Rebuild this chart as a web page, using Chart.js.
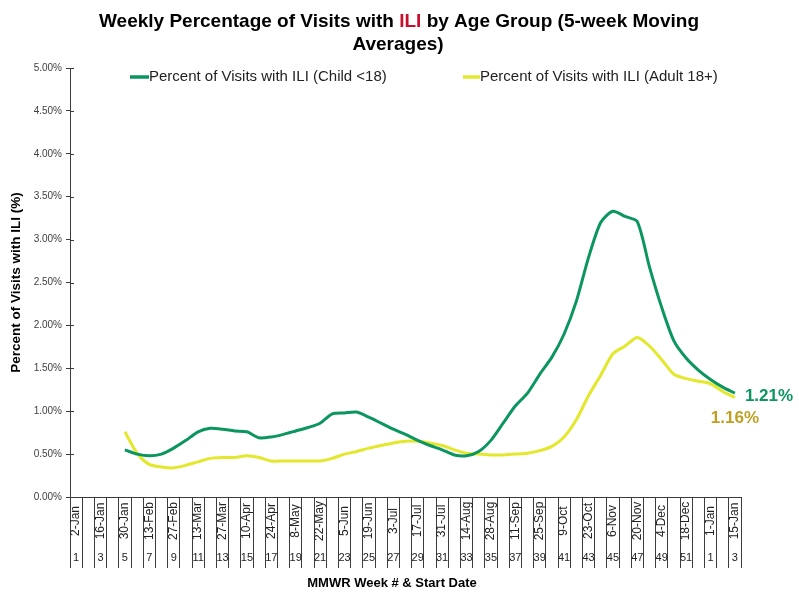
<!DOCTYPE html>
<html>
<head>
<meta charset="utf-8">
<script src="https://cdn.jsdelivr.net/npm/chart.js@4/dist/chart.umd.min.js"></script>
<style>
  html, body { margin: 0; padding: 0; background: #fff; }
  canvas { display: block; }
</style>
</head>
<body>
<canvas id="chart" width="799" height="592" style="width:799px;height:592px"></canvas>
<script>
// MMWR week numbers (weeks 1-52, then weeks 1-3 of the next year)
const weekNums = [1, 2, 3, 4, 5, 6, 7, 8, 9, 10, 11, 12, 13, 14, 15, 16, 17, 18, 19, 20,
    21, 22, 23, 24, 25, 26, 27, 28, 29, 30, 31, 32, 33, 34, 35, 36, 37, 38, 39, 40,
    41, 42, 43, 44, 45, 46, 47, 48, 49, 50, 51, 52, 1, 2, 3];

// start date labels (only every other week is labelled)
const startDates = ['2-Jan', '', '16-Jan', '', '30-Jan', '', '13-Feb', '', '27-Feb', '', '13-Mar', '',
    '27-Mar', '', '10-Apr', '', '24-Apr', '', '8-May', '', '22-May', '', '5-Jun', '', '19-Jun', '',
    '3-Jul', '', '17-Jul', '', '31-Jul', '', '14-Aug', '', '28-Aug', '', '11-Sep', '', '25-Sep', '',
    '9-Oct', '', '23-Oct', '', '6-Nov', '', '20-Nov', '', '4-Dec', '', '18-Dec', '', '1-Jan', '', '15-Jan'];

// week number labels shown on the axis
const weekTicks = weekNums.map((w, i) => (startDates[i] ? String(w) : ''));

// 5-week moving averages (%)
const childPct = [null, null, null, null,
    0.55, 0.50, 0.48, 0.50, 0.57, 0.66, 0.76, 0.80, 0.79, 0.77, 0.76, 0.69, 0.70, 0.73, 0.77, 0.81,
    0.86, 0.97, 0.98, 0.99, 0.93, 0.86, 0.79, 0.73, 0.66, 0.60, 0.55, 0.49, 0.48, 0.53, 0.66, 0.86,
    1.06, 1.21, 1.43, 1.63, 1.90, 2.28, 2.79, 3.20, 3.33, 3.27, 3.21, 2.68, 2.21, 1.82, 1.62, 1.48,
    1.37, 1.28, 1.21];
const adultPct = [null, null, null, null,
    0.76, 0.51, 0.38, 0.35, 0.34, 0.37, 0.41, 0.45, 0.46, 0.46, 0.48, 0.46, 0.42, 0.42, 0.42, 0.42,
    0.42, 0.45, 0.50, 0.53, 0.57, 0.60, 0.63, 0.65, 0.65, 0.63, 0.60, 0.55, 0.51, 0.50, 0.49, 0.49,
    0.50, 0.51, 0.54, 0.59, 0.70, 0.90, 1.18, 1.42, 1.67, 1.76, 1.86, 1.76, 1.60, 1.43, 1.38, 1.35,
    1.32, 1.23, 1.16];

const seriesNames = ['Percent of Visits with ILI (Child <18)', 'Percent of Visits with ILI (Adult 18+)'];
const yTicks = [0, 0.5, 1, 1.5, 2, 2.5, 3, 3.5, 4, 4.5, 5];

const GREEN = '#0b9660';
const YELLOW = '#e4e82c';
const GOLD = '#bfa022';
const AXIS = '#3c3c3c';
const FONT = '"Liberation Sans", Arial, sans-serif';

// title, legend, two-row category axis and end labels
const decorations = {
    id: 'decorations',
    afterDraw(chart) {
        const ctx = chart.ctx;
        const x = chart.scales.x;
        const y = chart.scales.y;
        const area = chart.chartArea;
        ctx.save();

        // title, "ILI" in red
        ctx.font = 'bold 19px ' + FONT;
        ctx.textBaseline = 'middle';
        ctx.textAlign = 'left';
        const parts = [['Weekly Percentage of Visits with ', '#000'], ['ILI', '#c8102e'], [' by Age Group (5-week Moving', '#000']];
        const total = parts.reduce((s, p) => s + ctx.measureText(p[0]).width, 0);
        let tx = 399 - total / 2;
        parts.forEach(p => {
            ctx.fillStyle = p[1];
            ctx.fillText(p[0], tx, 22);
            tx += ctx.measureText(p[0]).width;
        });
        ctx.textAlign = 'center';
        ctx.fillStyle = '#000';
        ctx.fillText('Averages)', 398, 45);

        // legend
        ctx.font = '15px ' + FONT;
        ctx.textAlign = 'left';
        ctx.fillStyle = '#222';
        ctx.lineWidth = 3.5;
        ctx.strokeStyle = GREEN;
        ctx.beginPath(); ctx.moveTo(130, 77); ctx.lineTo(149, 77); ctx.stroke();
        ctx.fillText(seriesNames[0], 149, 77);
        ctx.strokeStyle = YELLOW;
        ctx.beginPath(); ctx.moveTo(463, 77); ctx.lineTo(480, 77); ctx.stroke();
        ctx.fillText(seriesNames[1], 480, 77);

        // inner half of the y tick marks
        ctx.lineWidth = 1;
        ctx.strokeStyle = AXIS;
        yTicks.forEach(v => {
            const py = Math.round(y.getPixelForValue(v)) + 0.5;
            ctx.beginPath(); ctx.moveTo(area.left, py); ctx.lineTo(area.left + 4, py); ctx.stroke();
        });

        // category labels: rotated dates and week numbers
        ctx.fillStyle = '#222';
        ctx.textBaseline = 'middle';
        startDates.forEach((d, i) => {
            const px = x.getPixelForValue(i);
            if (d) {
                ctx.save();
                ctx.translate(px, 521);
                ctx.rotate(-Math.PI / 2);
                ctx.font = '12px ' + FONT;
                ctx.textAlign = 'center';
                ctx.fillText(d, 0, 0);
                ctx.restore();
            }
            if (weekTicks[i]) {
                ctx.font = '11px ' + FONT;
                ctx.textAlign = 'center';
                ctx.fillText(weekTicks[i], px, 558);
            }
        });

        // x axis title
        ctx.font = 'bold 13px ' + FONT;
        ctx.textAlign = 'center';
        ctx.fillStyle = '#000';
        ctx.fillText('MMWR Week # & Start Date', 392, 583);

        // last value labels
        const last = weekNums.length - 1;
        const lx = x.getPixelForValue(last);
        ctx.font = 'bold 17px ' + FONT;
        ctx.textAlign = 'left';
        ctx.fillStyle = GREEN;
        ctx.fillText(childPct[last].toFixed(2) + '%', lx + 10, y.getPixelForValue(childPct[last]) + 3);
        ctx.textAlign = 'center';
        ctx.fillStyle = GOLD;
        ctx.fillText(adultPct[last].toFixed(2) + '%', lx, y.getPixelForValue(adultPct[last]) + 21);

        ctx.restore();
    }
};

const chart = new Chart(document.getElementById('chart'), {
    type: 'line',
    data: {
        labels: weekNums,
        datasets: [{
            label: seriesNames[0],
            data: childPct,
            borderColor: GREEN,
            borderWidth: 3,
            pointRadius: 0,
            tension: 0.25
        }, {
            label: seriesNames[1],
            data: adultPct,
            borderColor: YELLOW,
            borderWidth: 3,
            pointRadius: 0,
            tension: 0.25
        }]
    },
    options: {
        responsive: false,
        animation: false,
        layout: {
            padding: { top: 68, right: 58, bottom: 0, left: 0 }
        },
        plugins: {
            legend: { display: false },
            title: { display: false },
            tooltip: { enabled: false }
        },
        scales: {
            x: {
                offset: true,
                ticks: { display: false, autoSkip: false },
                grid: {
                    offset: true,
                    drawOnChartArea: false,
                    tickLength: 71,
                    color: AXIS
                },
                border: { color: AXIS },
                afterFit: (scale) => { scale.height = 95; }
            },
            y: {
                min: 0,
                max: 5,
                afterBuildTicks: (scale) => { scale.ticks = yTicks.map(v => ({ value: v })); },
                ticks: {
                    callback: (v) => v.toFixed(2) + '%',
                    font: { size: 10, family: FONT },
                    color: '#404040',
                    padding: 4
                },
                grid: {
                    drawOnChartArea: false,
                    tickLength: 4,
                    color: AXIS
                },
                border: { color: AXIS },
                title: {
                    display: true,
                    text: 'Percent of Visits with ILI (%)',
                    font: { size: 13.5, weight: 'bold', family: FONT },
                    color: '#000',
                    padding: { top: 8, bottom: 4 }
                },
                afterFit: (scale) => { scale.width = 70; }
            }
        }
    },
    plugins: [decorations]
});
</script>
</body>
</html>
